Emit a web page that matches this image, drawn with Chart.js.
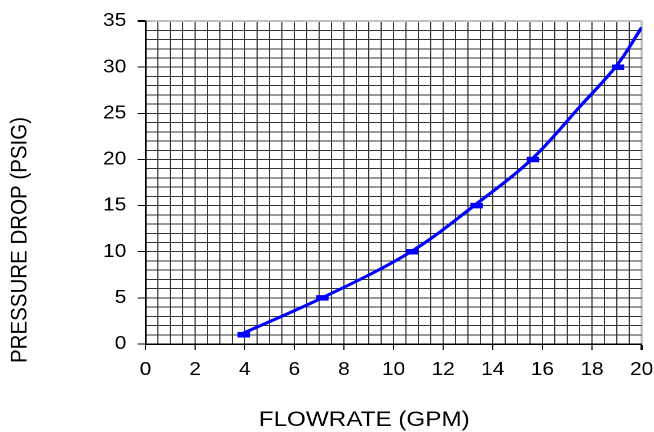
<!DOCTYPE html>
<html>
<head>
<meta charset="utf-8">
<script src="https://cdn.jsdelivr.net/npm/chart.js@4.4.1/dist/chart.umd.min.js"></script>
<style>
  html, body { margin: 0; padding: 0; background: #fff; overflow: hidden; }
  #wrap { width: 654px; height: 432px; }
  /* la imagen original esta estirada a lo ancho */
  #grafico { transform: scaleX(1.1276); transform-origin: 0 0; }
</style>
</head>
<body>
<div id="wrap"><canvas id="grafico" width="580" height="432" style="width:580px;height:432px"></canvas></div>
<script>
// datos
const flujoPuntos = [3.96, 7.13, 10.74, 13.35, 15.62, 19.05];
const presionPuntos = [1, 5, 10, 15, 20, 30];

// curva de ajuste (leida a ojo)
const flujoCurva = [3.8, 7.2, 10.7, 13.3, 15.6, 17.5, 19.0, 20.0];
const presionCurva = [1.0, 5.1, 10.0, 15.1, 20.1, 25.7, 30.2, 34.3];

const xMin = 0, xMax = 20, xPaso = 0.5, xEtiqueta = 2;
const yMin = 0, yMax = 35, yPaso = 1, yEtiqueta = 5;

const tituloX = "FLOWRATE (GPM)";
const tituloY = "PRESSURE DROP (PSIG)";

const fuente = "'Liberation Sans', Arial, sans-serif";
const gridColor = "#333";
const bordeGris = "#c0c0c0";

function esMultiplo(v, m) {
  return Math.abs(v / m - Math.round(v / m)) < 1e-6;
}

// titulos de los ejes en la misma posicion que el original
const titulos = {
  id: "titulos",
  afterDraw(chart) {
    const c = chart.ctx;
    c.save();
    c.fillStyle = "#000";
    c.textAlign = "center";
    c.textBaseline = "middle";
    c.font = "21.5px " + fuente;
    c.fillText(tituloX, 323, 420);
    c.translate(18, 240);
    c.rotate(-Math.PI / 2);
    c.font = "20.5px " + fuente;
    c.fillText(tituloY, 0, 0);
    c.restore();
  }
};

const ctx = document.getElementById("grafico").getContext("2d");

const chart = new Chart(ctx, {
  type: "scatter",
  data: {
    datasets: [
      {
        label: "Datos",
        data: flujoPuntos.map((x, i) => ({ x: x, y: presionPuntos[i] })),
        pointStyle: "line",
        pointRadius: 5.5,
        pointBorderWidth: 5.5,
        pointBorderColor: "#0000ff",
        pointBackgroundColor: "#0000ff"
      },
      {
        label: "Ajuste",
        type: "line",
        data: flujoCurva.map((x, i) => ({ x: x, y: presionCurva[i] })),
        borderColor: "#0000ff",
        borderWidth: 3,
        pointRadius: 0,
        fill: false,
        tension: 0.35
      }
    ]
  },
  plugins: [titulos],
  options: {
    responsive: false,
    animation: false,
    devicePixelRatio: 2,
    layout: { padding: { top: 18, right: 11, left: 0, bottom: 0 } },
    plugins: {
      legend: { display: false },
      tooltip: { enabled: false }
    },
    scales: {
      x: {
        type: "linear",
        min: xMin,
        max: xMax,
        afterFit: function (scale) {
          scale.height = 88;
          scale.paddingLeft = 0;
          scale.paddingRight = 0;
        },
        ticks: {
          stepSize: xPaso,
          autoSkip: false,
          maxRotation: 0,
          padding: 9,
          color: "#000",
          font: { family: fuente, size: 18.5 },
          callback: function (v) { return esMultiplo(v, xEtiqueta) ? v : ""; }
        },
        grid: {
          color: function (c) {
            return c.tick && Math.abs(c.tick.value - xMax) < 1e-6 ? bordeGris : gridColor;
          },
          lineWidth: function (c) {
            return c.tick && Math.abs(c.tick.value - xMax) < 1e-6 ? 2 : 1;
          },
          tickLength: 6,
          tickColor: function (c) {
            return c.tick && esMultiplo(c.tick.value, xEtiqueta) ? "#000" : "rgba(0,0,0,0)";
          }
        },
        border: { color: "#000", width: 1.5 },
        title: { display: false }
      },
      y: {
        type: "linear",
        min: yMin,
        max: yMax,
        afterFit: function (scale) { scale.width = 129; },
        ticks: {
          stepSize: yPaso,
          autoSkip: false,
          padding: 10,
          color: "#000",
          font: { family: fuente, size: 18.5 },
          callback: function (v) { return esMultiplo(v, yEtiqueta) ? v : ""; }
        },
        grid: {
          color: function (c) {
            return c.tick && Math.abs(c.tick.value - yMax) < 1e-6 ? bordeGris : gridColor;
          },
          lineWidth: function (c) {
            return c.tick && Math.abs(c.tick.value - yMax) < 1e-6 ? 2 : 1;
          },
          tickLength: 7,
          tickColor: function (c) {
            return c.tick && esMultiplo(c.tick.value, yEtiqueta) ? "#000" : "rgba(0,0,0,0)";
          }
        },
        border: { color: "#000", width: 1.5 },
        title: { display: false }
      }
    }
  }
});
</script>
</body>
</html>
